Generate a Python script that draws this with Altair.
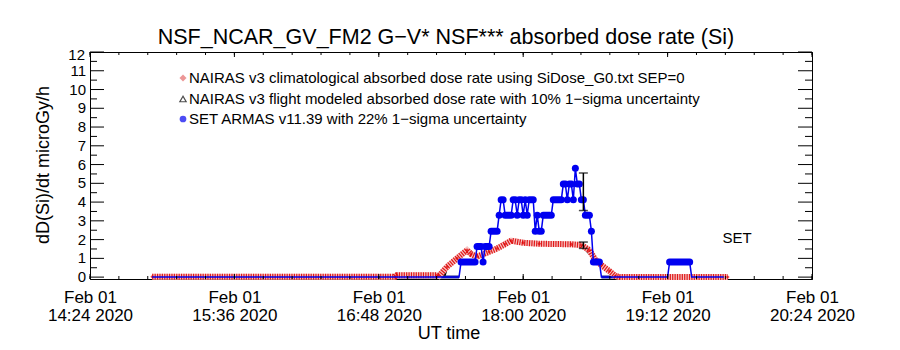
import altair as alt
import pandas as pd
import numpy as np

DAY = "2020-02-01"
FONT = "Liberation Sans"

# ---------------- data ----------------
# NAIRAS v3 climatological absorbed dose rate (red)
clim_time = ["14:55", "16:56", "16:57", "17:17", "17:18", "17:22", "17:27", "17:32",
             "17:34", "17:37", "17:43", "17:47", "17:51", "17:54", "18:00", "18:08",
             "18:24", "18:29", "18:33", "18:36", "18:39", "18:43", "18:46", "18:48", "19:42"]
clim_val = [0.02, 0.02, 0.1, 0.1, 0.06, 0.55, 1.0, 1.44,
            1.23, 1.09, 1.35, 1.53, 1.76, 1.94, 1.83, 1.78,
            1.75, 1.71, 1.44, 0.91, 0.64, 0.32, 0.06, 0.0, 0.0]

# NAIRAS v3 flight modeled absorbed dose rate (black)
flight_time = ["17:17", "17:21", "17:22", "17:27", "17:32", "17:37", "17:47", "17:54",
               "18:08", "18:29", "18:36", "18:43", "18:48", "19:42"]
flight_val = [0.12, 0.12, 0.5, 0.98, 1.4, 1.08, 1.5, 1.9,
              1.76, 1.7, 0.9, 0.3, 0.0, 0.0]

# SET ARMAS v11.39 (blue) as constant segments
set_start = ["14:55", "17:29", "17:37", "17:40", "17:41", "17:44", "17:48", "17:49",
             "17:51", "17:55", "17:57", "17:58", "18:00", "18:01", "18:02", "18:03",
             "18:06", "18:07", "18:08", "18:10", "18:15", "18:20", "18:22", "18:23",
             "18:25", "18:26", "18:27", "18:29", "18:31", "18:34", "18:35", "18:39",
             "19:13", "19:24"]
set_end = ["17:28", "17:36", "17:39", "17:40", "17:43", "17:47", "17:48", "17:50",
           "17:54", "17:56", "17:57", "17:59", "18:00", "18:01", "18:02", "18:05",
           "18:06", "18:07", "18:09", "18:14", "18:19", "18:21", "18:22", "18:24",
           "18:25", "18:26", "18:28", "18:30", "18:33", "18:34", "18:38", "19:12",
           "19:23", "19:40"]
set_val = [0.0, 0.8, 1.63, 0.8, 1.63, 2.45, 3.3, 4.13,
           3.3, 4.13, 3.3, 4.13, 3.3, 4.13, 3.3, 4.13,
           2.45, 3.3, 2.45, 3.3, 4.13, 4.96, 4.13, 4.96,
           4.13, 5.8, 4.96, 4.13, 3.3, 2.45, 0.8, 0.0,
           0.8, 0.0]

# error bars (time, centre, half width)
err_time = ["18:30", "18:30"]
err_mid = [4.55, 1.7]
err_half = [1.0, 0.17]

# axis ticks
x_major = ["14:24", "15:36", "16:48", "18:00", "19:12", "20:24"]
y_major = list(range(0, 13))

legend_labels = [
    "NAIRAS v3 climatological absorbed dose rate using SiDose_G0.txt SEP=0",
    "NAIRAS v3 flight modeled absorbed dose rate with 10% 1\u2212sigma uncertainty",
    "SET ARMAS v11.39 with 22% 1\u2212sigma uncertainty",
]


def ts(hm):
    return f"{DAY}T{hm}:00Z"


# ---------------- tables ----------------
clim = pd.DataFrame({"t": [ts(t) for t in clim_time], "v": clim_val})
flight = pd.DataFrame({"t": [ts(t) for t in flight_time], "v": flight_val})
seg = pd.DataFrame({"t": [ts(t) for t in set_start], "t2": [ts(t) for t in set_end], "v": set_val})
path_t, path_v = [], []
for s, e, v in zip(set_start, set_end, set_val):
    path_t += [ts(s), ts(e)]
    path_v += [v, v]
setpath = pd.DataFrame({"t": path_t, "v": path_v, "i": range(len(path_t))})
err = pd.DataFrame({"t": [ts(t) for t in err_time],
                    "v": [m - h for m, h in zip(err_mid, err_half)],
                    "hi": [m + h for m, h in zip(err_mid, err_half)]})

start = pd.Timestamp(f"{DAY} 14:24")
minor = pd.date_range(start, periods=26, freq="864s")
xminor = pd.DataFrame({"t": [d.strftime("%Y-%m-%dT%H:%M:%SZ") for d in minor]})
xmaj = pd.DataFrame({"t": [ts(t) for t in x_major]})
ymaj = pd.DataFrame({"v": y_major, "lab": [str(v) for v in y_major]})
ymin = pd.DataFrame({"v": [v + 0.5 for v in y_major[:-1]]})

W, H = 722, 227
xdom = [alt.DateTime(year=2020, month=2, date=1, hours=14, minutes=24, utc=True),
        alt.DateTime(year=2020, month=2, date=1, hours=20, minutes=24, utc=True)]
xscale = alt.Scale(type="utc", domain=xdom, nice=False)
yscale = alt.Scale(domain=[-0.1, 12], nice=False, zero=False)

X = alt.X("t:T", scale=xscale, title=None,
          axis=alt.Axis(values=[alt.DateTime(year=2020, month=2, date=1,
                                             hours=int(t[:2]), minutes=int(t[3:]), utc=True)
                                for t in x_major],
                        labelExpr="[utcFormat(datum.value, '%b %d'), utcFormat(datum.value, '%H:%M %Y')]",
                        ticks=False, tickSize=0, labelPadding=10, labelLineHeight=18,
                        labelFontSize=17, labelFont=FONT, labelColor="black",
                        labelBaseline="top", grid=False, domainColor="black",
                        labelFlush=False, labelOverlap=False))
Y = alt.Y("v:Q", scale=yscale, title=None,
          axis=alt.Axis(labels=False, ticks=False, tickSize=0, grid=False, domainColor="black"))

base_x = alt.X("t:T", scale=xscale, title=None)
base_y = alt.Y("v:Q", scale=yscale, title=None)

# axes carrier (invisible)
axes = alt.Chart(clim).mark_point(opacity=0).encode(x=X, y=Y)

# y tick labels
ylab = alt.Chart(ymaj).transform_filter("datum.v < 12").mark_text(
    font=FONT, fontSize=15, color="black", align="right", baseline="middle").encode(
    y=base_y, text="lab:N", x=alt.value(-4))
ylab_top = alt.Chart(ymaj).transform_filter("datum.v == 12").mark_text(
    font=FONT, fontSize=15, color="black", align="right", baseline="top", dy=-4).encode(
    y=base_y, text="lab:N", x=alt.value(-5))

# inward ticks
xt_min_b = alt.Chart(xminor).mark_rule(color="black").encode(x=base_x, y=alt.value(H), y2=alt.value(H - 3))
xt_min_t = alt.Chart(xminor).mark_rule(color="black").encode(x=base_x, y=alt.value(0), y2=alt.value(3))
xt_maj_b = alt.Chart(xmaj).mark_rule(color="black").encode(x=base_x, y=alt.value(H), y2=alt.value(H - 5))
xt_maj_t = alt.Chart(xmaj).mark_rule(color="black").encode(x=base_x, y=alt.value(0), y2=alt.value(5))
yt_maj_l = alt.Chart(ymaj).mark_rule(color="black").encode(y=base_y, x=alt.value(0), x2=alt.value(14))
yt_maj_r = alt.Chart(ymaj).mark_rule(color="black").encode(y=base_y, x=alt.value(W), x2=alt.value(W - 14))
yt_min_l = alt.Chart(ymin).mark_rule(color="black").encode(y=base_y, x=alt.value(0), x2=alt.value(7))
yt_min_r = alt.Chart(ymin).mark_rule(color="black").encode(y=base_y, x=alt.value(W), x2=alt.value(W - 7))

# SET zero segments (under the red)
set_zero = alt.Chart(seg).transform_filter("datum.v == 0").mark_rule(
    color="#1a1a8c", strokeWidth=3).encode(x=base_x, x2="t2:T", y=base_y)

# flight modeled (black)
flight_line = alt.Chart(flight).mark_line(color="black", strokeWidth=2).encode(x=base_x, y=base_y)

# climatological red band
red_base = alt.Chart(clim).mark_line(color="#f6c4c4", strokeWidth=6).encode(x=base_x, y=base_y)
red_hatch = alt.Chart(clim).mark_line(color="#e01818", strokeWidth=6, strokeDash=[1.2, 1.2]).encode(x=base_x, y=base_y)
red_pts = alt.Chart(clim).mark_point(shape="diamond", filled=True, color="#e00000", size=14).encode(x=base_x, y=base_y)

# SET blue
set_line = alt.Chart(setpath).mark_line(color="#0000f0", strokeWidth=1.5).encode(
    x=base_x, y=base_y, order="i:Q")
set_bars = alt.Chart(seg).transform_filter("datum.v > 0").mark_rule(
    color="#0000f0", strokeWidth=7, strokeCap="round").encode(x=base_x, x2="t2:T", y=base_y)

# error bars
err_v = alt.Chart(err).mark_rule(color="black", strokeWidth=1.5).encode(
    x=base_x, y=base_y, y2="hi:Q")
err_lo = alt.Chart(err).mark_tick(orient="horizontal", color="black", size=9, thickness=1.5).encode(
    x=base_x, y=base_y)
err_hi = alt.Chart(err).mark_tick(orient="horizontal", color="black", size=9, thickness=1.5).encode(
    x=base_x, y=alt.Y("hi:Q", scale=yscale, title=None))

# legend
leg = pd.DataFrame({"label": legend_labels, "row": [0, 1, 2]})
ROWY = [26, 47, 67]
leg_text = []
for i, lab in enumerate(legend_labels):
    leg_text.append(alt.Chart(leg.iloc[[i]]).mark_text(
        align="left", baseline="middle", font=FONT, fontSize=15, color="black").encode(
        text="label:N", x=alt.value(99), y=alt.value(ROWY[i])))
leg_sym1 = alt.Chart(leg.iloc[[0]]).mark_point(shape="diamond", filled=True, color="#e46a6a", size=50).encode(
    x=alt.value(93), y=alt.value(ROWY[0]))
leg_sym2 = alt.Chart(leg.iloc[[1]]).mark_point(shape="triangle-up", filled=False, color="black", size=40, strokeWidth=1.2).encode(
    x=alt.value(93), y=alt.value(ROWY[1]))
leg_sym3 = alt.Chart(leg.iloc[[2]]).mark_point(shape="circle", filled=True, color="#0000f0", size=45).encode(
    x=alt.value(93), y=alt.value(ROWY[2]))

# texts
txt = pd.DataFrame({"s": ["NSF_NCAR_GV_FM2 G\u2212V* NSF*** absorbed dose rate (Si)",
                          "UT time", "dD(Si)/dt microGy/h", "SET"]})
title = alt.Chart(txt.iloc[[0]]).mark_text(font=FONT, fontSize=21.5, color="black", align="center", baseline="middle").encode(
    text="s:N", x=alt.value(356), y=alt.value(-14))
xtitle = alt.Chart(txt.iloc[[1]]).mark_text(font=FONT, fontSize=18, color="black", align="center", baseline="middle").encode(
    text="s:N", x=alt.value(359), y=alt.value(282))
ytitle = alt.Chart(txt.iloc[[2]]).mark_text(font=FONT, fontSize=18, color="black", align="center", baseline="middle", angle=270).encode(
    text="s:N", x=alt.value(-46), y=alt.value(113))
settxt = alt.Chart(txt.iloc[[3]]).mark_text(font=FONT, fontSize=15, color="black", align="center", baseline="middle").encode(
    text="s:N", x=alt.value(647), y=alt.value(186))

chart = alt.layer(
    axes, set_zero, flight_line, red_base, red_hatch, red_pts, set_line, set_bars,
    err_v, err_lo, err_hi,
    xt_min_b, xt_min_t, xt_maj_b, xt_maj_t, yt_maj_l, yt_maj_r, yt_min_l, yt_min_r,
    ylab, ylab_top,
    *leg_text, leg_sym1, leg_sym2, leg_sym3, title, xtitle, ytitle, settxt
).properties(
    width=W, height=H, autosize=alt.AutoSizeParams(type="none"),
    padding={"left": 90, "top": 52, "right": 88, "bottom": 71},
    background="white"
).configure_view(stroke="black", strokeWidth=1)

chart.save("out.html", embed_options={"renderer": "svg", "actions": False})
